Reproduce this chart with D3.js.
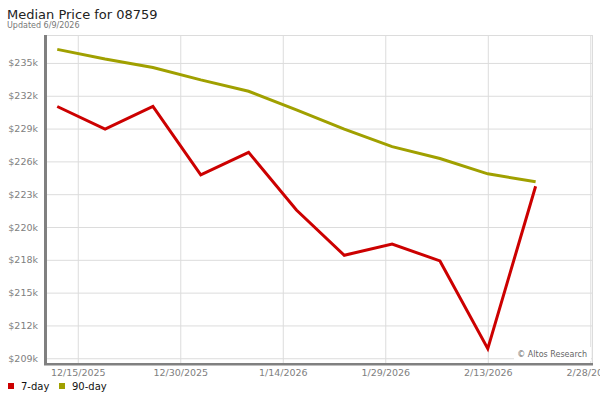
<!DOCTYPE html>
<html>
<head>
<meta charset="utf-8">
<script src="https://cdn.jsdelivr.net/npm/d3@7"></script>
<style>
  html, body { margin: 0; padding: 0; background: #fff; }
  svg { display: block; font-family: "DejaVu Sans", Verdana, sans-serif; }
</style>
</head>
<body>
<svg id="chart" width="600" height="400"></svg>
<script>
// ---- data ----
const dates = ["2025-12-12","2025-12-19","2025-12-26","2026-01-02","2026-01-09","2026-01-16","2026-01-23","2026-01-30","2026-02-06","2026-02-13","2026-02-20"];
const sevenDay = [231.1, 229.1, 231.1, 225.05, 227.05, 221.95, 217.95, 218.95, 217.45, 209.7, 224.05];
const ninetyDay = [236.15, 235.3, 234.55, 233.45, 232.45, 230.8, 229.1, 227.55, 226.5, 225.15, 224.45];
const yTicks = [208.85, 211.75, 214.65, 217.55, 220.45, 223.35, 226.25, 229.15, 232.05, 234.95];
const xTicks = ["2025-12-15","2025-12-30","2026-01-14","2026-01-29","2026-02-13","2026-02-28"];
const xTickLabels = ["12/15/2025","12/30/2025","1/14/2026","1/29/2026","2/13/2026","2/28/2026"];
const seriesNames = ["7-day", "90-day"];
const seriesColors = ["#cc0000", "#a0a000"];

const parse = d3.utcParse("%Y-%m-%d");
const svg = d3.select("#chart");

const pL = 47, pR = 593, pT = 35, pB = 363;

const x = d3.scaleUtc()
  .domain([new Date(Date.UTC(2025, 11, 10, 12)), new Date(Date.UTC(2026, 1, 28, 9, 30))])
  .range([pL, pR]);
const y = d3.scaleLinear().domain([208.43, 237.42]).range([pB, pT]);

// title
svg.append("text").attr("x", 7).attr("y", 18.5)
  .attr("font-size", 13).attr("fill", "#222").text("Median Price for 08759");
svg.append("text").attr("x", 7).attr("y", 27.5)
  .attr("font-size", 8).attr("fill", "#777").text("Updated 6/9/2026");

// grid
const g = svg.append("g");
g.append("g").attr("transform", `translate(${pL},0)`)
  .call(d3.axisLeft(y).tickValues(yTicks).tickSize(-(pR - pL)).tickFormat(""))
  .call(s => s.select(".domain").remove())
  .call(s => s.selectAll("line").attr("stroke", "#dcdcdc"));
g.append("g").attr("transform", `translate(0,${pB})`)
  .call(d3.axisBottom(x).tickValues(xTicks.map(parse)).tickSize(-(pB - pT)).tickFormat(""))
  .call(s => s.select(".domain").remove())
  .call(s => s.selectAll("line").attr("stroke", "#dcdcdc"));
// top & right border
svg.append("line").attr("x1", pL).attr("x2", pR).attr("y1", pT + 0.5).attr("y2", pT + 0.5).attr("stroke", "#dcdcdc");
svg.append("line").attr("x1", pR - 0.5).attr("x2", pR - 0.5).attr("y1", pT).attr("y2", pB).attr("stroke", "#dcdcdc");

// y labels
const yl = svg.append("g").attr("transform", `translate(${pL},0)`)
  .call(d3.axisLeft(y).tickValues(yTicks).tickSize(0).tickPadding(9)
    .tickFormat(v => "$" + Math.round(v) + "k"));
yl.select(".domain").remove();
yl.selectAll("text").attr("font-size", 9.5).attr("fill", "#808080").attr("font-family", "DejaVu Sans");

// x labels
const xl = svg.append("g").attr("transform", `translate(0,${pB})`)
  .call(d3.axisBottom(x).tickValues(xTicks.map(parse)).tickSize(0).tickPadding(6)
    .tickFormat((d, i) => xTickLabels[i]));
xl.select(".domain").remove();
xl.selectAll("text").attr("font-size", 9.5).attr("fill", "#808080").attr("font-family", "DejaVu Sans");

// axis bars
svg.append("rect").attr("x", pL - 3).attr("y", pT).attr("width", 3).attr("height", pB - pT + 2).attr("fill", "#808080");
svg.append("rect").attr("x", pL - 3).attr("y", pB).attr("width", pR - pL + 3).attr("height", 2.5).attr("fill", "#808080");

// watermark
svg.append("rect").attr("x", 514).attr("y", 347).attr("width", 77).attr("height", 14).attr("fill", "#fff");
svg.append("text").attr("x", 587).attr("y", 357).attr("text-anchor", "end")
  .attr("font-size", 8).attr("fill", "#666").text("\u00A9 Altos Research");

// lines
const line = d3.line().x((d, i) => x(parse(dates[i]))).y(d => y(d));
[sevenDay, ninetyDay].forEach((s, k) => {
  svg.append("path").datum(s).attr("d", line).attr("fill", "none")
    .attr("stroke", seriesColors[k]).attr("stroke-width", 3).attr("stroke-linejoin", "miter");
});

// legend
const legendX = [8, 59];
seriesNames.forEach((n, k) => {
  svg.append("rect").attr("x", legendX[k]).attr("y", 383).attr("width", 6).attr("height", 6).attr("fill", seriesColors[k]);
  svg.append("text").attr("x", legendX[k] + 13).attr("y", 390).attr("font-size", 10).attr("fill", "#111").text(n);
});
</script>
</body>
</html>
